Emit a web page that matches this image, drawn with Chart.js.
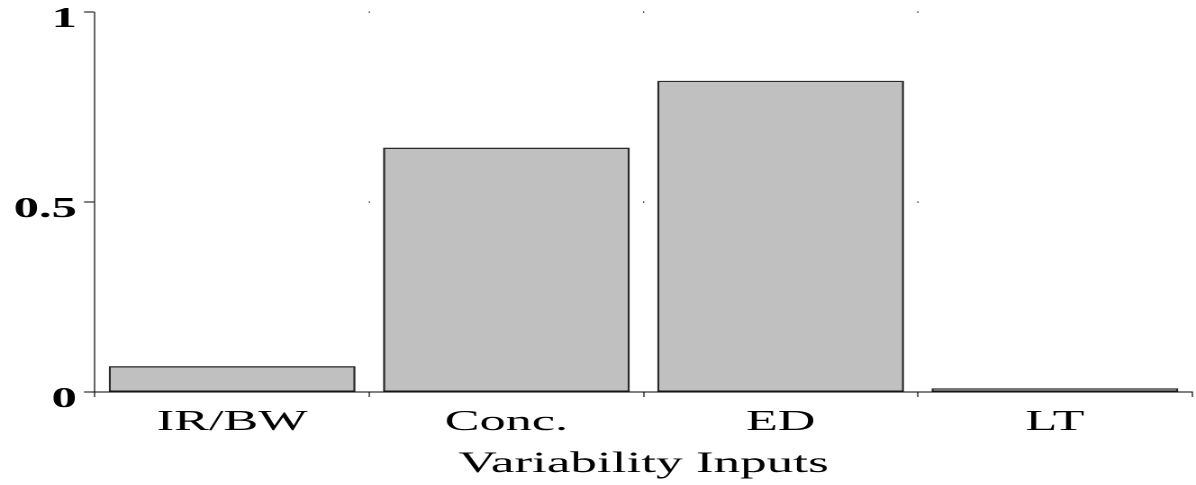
<!DOCTYPE html>
<html>
<head>
<meta charset="utf-8">
<script src="https://cdn.jsdelivr.net/npm/chart.js@4/dist/chart.umd.min.js"></script>
<style>
  html, body { margin: 0; padding: 0; background: #ffffff; overflow: hidden; }
  #wrap { position: absolute; left: 0; top: 0; width: 664px; height: 485px; transform-origin: 0 0; }
</style>
</head>
<body>
<div id="wrap"><canvas id="c" width="664" height="485" style="width:664px;height:485px"></canvas></div>
<script>
// ---- data ----
const categories = ["IR/BW", "Conc.", "ED", "LT"];
const values = [0.068, 0.643, 0.819, 0.01];
const yTickValues = [0, 0.5, 1];
const yTickLabels = ["0", "0.5", "1"];
const xTitle = "Variability Inputs";

// ---- layout (horizontal stretch of the whole picture) ----
const STRETCH = 1196 / 664;
document.getElementById('wrap').style.transform = 'scaleX(' + STRETCH + ')';
const SERIF = '"Liberation Serif", "Times New Roman", serif';

const gridDots = {
  id: 'gridDots',
  afterDraw(chart) {
    const xs = chart.scales.x, ys = chart.scales.y, ctx = chart.ctx;
    ctx.save();
    ctx.fillStyle = '#000';
    for (let i = 1; i < categories.length; i++) {
      const bx = (xs.getPixelForValue(i - 1) + xs.getPixelForValue(i)) / 2;
      yTickValues.forEach(v => {
        if (v === 0) return;
        const py = ys.getPixelForValue(v);
        ctx.fillRect(bx - 0.5 / STRETCH, py - 0.5, 1.2 / STRETCH, 1.2);
      });
    }
    ctx.restore();
  }
};

new Chart(document.getElementById('c'), {
  type: 'bar',
  data: {
    labels: categories,
    datasets: [{
      data: values,
      backgroundColor: '#c0c0c0',
      borderColor: '#2a2a2a',
      borderWidth: 1.3,
      borderSkipped: false,
      categoryPercentage: 1.0,
      barPercentage: 0.9
    }]
  },
  options: {
    responsive: false,
    animation: false,
    devicePixelRatio: 2,
    layout: { padding: { top: 12, right: 2.2, left: 0, bottom: 0 } },
    plugins: { legend: { display: false }, tooltip: { enabled: false } },
    scales: {
      x: {
        offset: true,
        grid: { display: true, drawOnChartArea: false, offset: true, tickLength: 5, color: '#000', lineWidth: 0.6 },
        border: { display: true, color: '#000', width: 1 },
        ticks: { color: '#000', padding: 8, font: { family: SERIF, size: 29 }, maxRotation: 0, autoSkip: false },
        title: { display: true, text: xTitle, color: '#000', font: { family: SERIF, size: 29.5 }, padding: { top: 0, bottom: 3 } },
        afterFit(scale) { scale.height = 93; scale.paddingLeft = 0; scale.paddingRight = 0; }
      },
      y: {
        min: 0, max: 1,
        afterBuildTicks(scale) { scale.ticks = yTickValues.map(v => ({ value: v })); },
        grid: { display: true, drawOnChartArea: false, tickLength: 6.1, color: '#000', lineWidth: 1 },
        border: { display: true, color: '#000', width: 0.6 },
        ticks: {
          color: '#000', padding: 4, labelOffset: 8,
          font: { family: SERIF, size: 28, weight: 'bold' },
          callback: (v) => yTickLabels[yTickValues.indexOf(v)]
        },
        afterFit(scale) { scale.width = 52.74; scale.paddingTop = 0; scale.paddingBottom = 0; }
      }
    }
  },
  plugins: [gridDots]
});
</script>
</body>
</html>
